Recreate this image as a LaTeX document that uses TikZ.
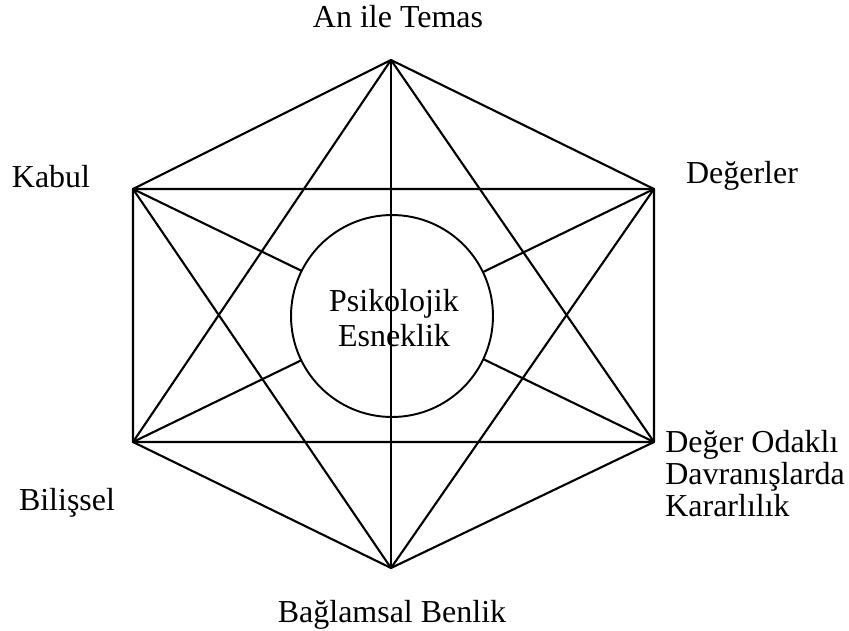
\documentclass[tikz,border=0pt]{standalone}
\usepackage{fontspec}
\setmainfont{Liberation Serif}
\usetikzlibrary{positioning}

\begin{document}
\begin{tikzpicture}[x=0.02cm, y=-0.02cm,
  edge/.style={draw, line width=1.2pt, line join=round},
  lbl/.style={font=\fontsize{18.2}{18.1}\selectfont, inner sep=0pt},
  core/.style={draw, circle, fill=white, line width=1.1pt, minimum size=4.04cm, inner sep=0pt}
]
\useasboundingbox (0,0) rectangle (849,630);
% corners of the hexagon
\coordinate (temas) at (391,60);
\coordinate (deger) at (654,189);
\coordinate (odak) at (654,442);
\coordinate (benlik) at (391,568);
\coordinate (bilis) at (133,442);
\coordinate (kabul) at (133,189);
% long diagonals behind the circle
\draw[edge] (kabul) -- (odak) (deger) -- (bilis);
\node[core] (esneklik) at (392,316) {};
\draw[edge] (temas) -- (deger) -- (odak) -- (benlik) -- (bilis) -- (kabul) -- cycle;
\draw[edge] (temas) -- (bilis) -- (odak) -- cycle;
\draw[edge] (benlik) -- (kabul) -- (deger) -- cycle;
\draw[edge] (temas) -- (benlik);
% labels
\node[lbl, anchor=north, align=center, font=\fontsize{18.2}{20}\selectfont] (esnekliktxt) at (394,289) {Psikolojik\\Esneklik};
\node[lbl, anchor=base] (temastxt) at (398,27) {An ile Temas};
\node[lbl, anchor=base] (kabultxt) at (51,187) {Kabul};
\node[lbl, anchor=base] (degertxt) at (742,183) {Değerler};
\node[lbl, anchor=base] (bilistxt) at (67,510) {Bilişsel};
\node[lbl, anchor=north west, align=left] (odaktxt) at (665,430) {Değer Odaklı\\Davranışlarda\\Kararlılık};
\node[lbl, anchor=base] (benliktxt) at (392,622) {Bağlamsal Benlik};
\end{tikzpicture}
\end{document}
